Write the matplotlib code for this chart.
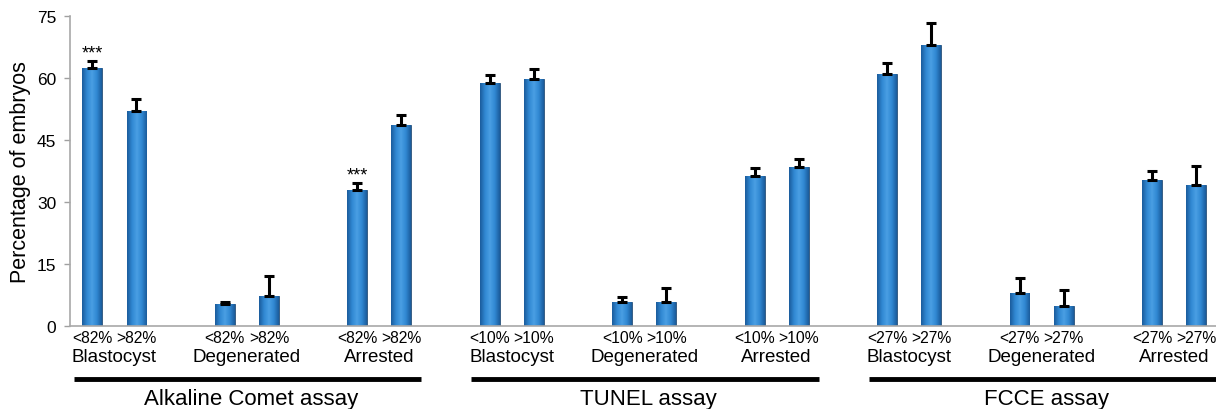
import numpy as np
import matplotlib
matplotlib.use("Agg")
import matplotlib.pyplot as plt
import matplotlib.transforms as mtransforms
from matplotlib.colors import LinearSegmentedColormap

plt.rcParams['font.family'] = ['Liberation Sans', 'DejaVu Sans']

# ---- data ----
assays = ['Alkaline Comet assay', 'TUNEL assay', 'FCCE assay']
categories = ['Blastocyst', 'Degenerated', 'Arrested']
thresholds = ['82%', '10%', '27%']

comet_low = [62.5, 5.3, 33.0]
comet_low_err = [1.6, 0.5, 1.6]
comet_high = [52.0, 7.2, 48.7]
comet_high_err = [2.9, 4.8, 2.4]

tunel_low = [58.8, 5.8, 36.2]
tunel_low_err = [1.9, 1.1, 2.1]
tunel_high = [59.7, 5.8, 38.5]
tunel_high_err = [2.5, 3.4, 1.9]

fcce_low = [61.0, 8.1, 35.3]
fcce_low_err = [2.6, 3.4, 2.3]
fcce_high = [68.0, 4.8, 34.1]
fcce_high_err = [5.2, 3.8, 4.6]

# significance marks (assay index, category index, level index)
significance = [(0, 0, 0, '***'), (0, 2, 0, '***')]

yticks = [0, 15, 30, 45, 60, 75]

lows = [comet_low, tunel_low, fcce_low]
low_errs = [comet_low_err, tunel_low_err, fcce_low_err]
highs = [comet_high, tunel_high, fcce_high]
high_errs = [comet_high_err, tunel_high_err, fcce_high_err]

# ---- build positions ----
xs, vals, errs, labels = [], [], [], []
for a in range(3):
    for c in range(3):
        for l in range(2):
            xs.append(9 * a + 3 * c + l)
            if l == 0:
                vals.append(lows[a][c]); errs.append(low_errs[a][c])
                labels.append('<' + thresholds[a])
            else:
                vals.append(highs[a][c]); errs.append(high_errs[a][c])
                labels.append('>' + thresholds[a])
xs = np.array(xs, dtype=float)
vals = np.array(vals)
errs = np.array(errs)

fig = plt.figure(figsize=(12.16, 4.10), dpi=100)
H = 410.0
ax = fig.add_axes([70 / 1216, (H - 327) / H, 1 - 70 / 1216, (327 - 17) / H])

bars = ax.bar(xs, vals, width=0.45, color='#2f82cc', edgecolor='#2a4f75',
              linewidth=0.6, zorder=2)

# horizontal gradient fill in each bar
cmap = LinearSegmentedColormap.from_list(
    'barg', ['#1b5c9c', '#3088d2', '#4a9fe4', '#3088d2', '#1b5c9c'])
grad = np.linspace(0, 1, 64).reshape(1, -1)
for b in bars:
    x0, y0 = b.get_x(), b.get_y()
    w, h = b.get_width(), b.get_height()
    im = ax.imshow(grad, cmap=cmap, aspect='auto',
                   extent=[x0, x0 + w, y0, y0 + h], zorder=2.1)
    im.set_clip_path(b)

ax.errorbar(xs, vals, yerr=[np.zeros_like(errs), errs], fmt='none',
            ecolor='black', elinewidth=2.2, capsize=3.5, capthick=2.2, zorder=3)

for a, c, l, txt in significance:
    i = 6 * a + 2 * c + l
    ax.text(xs[i], vals[i] + errs[i] + 0.9, txt, ha='center', va='baseline',
            fontsize=13)

ax.set_xlim(-0.505, 25.45)
ax.set_ylim(0, 75)
ax.set_yticks(yticks)
ax.set_yticklabels([str(t) for t in yticks], fontsize=12.5)
ax.set_xticks(xs)
ax.set_xticklabels(labels, fontsize=11.3)
ax.tick_params(axis='x', length=0, pad=3)
ax.tick_params(axis='y', length=4, width=1, color='#a0a0a0', pad=6)
for s in ['top', 'right']:
    ax.spines[s].set_visible(False)
for s in ['left', 'bottom']:
    ax.spines[s].set_color('#a8a8a8')
    ax.spines[s].set_linewidth(1.2)
ax.set_ylabel('Percentage of embryos', fontsize=15.5, labelpad=4)

trans = mtransforms.blended_transform_factory(ax.transData, ax.transAxes)
axh = 310.0
for a in range(3):
    for c in range(3):
        mid = 9 * a + 3 * c + 0.5
        ax.text(mid, -31 / axh, categories[c], transform=trans, ha='center',
                va='center', fontsize=13.5)
    first = 9 * a
    last = 9 * a + 7
    ax.plot([first - 0.42, last + 0.45], [-53 / axh, -53 / axh],
            transform=trans, color='black', lw=3.5, clip_on=False,
            solid_capstyle='butt')
    ax.text((first + last) / 2 + 0.1, -73 / axh, assays[a], transform=trans,
            ha='center', va='center', fontsize=16)

fig.savefig('out.png', dpi=100)
